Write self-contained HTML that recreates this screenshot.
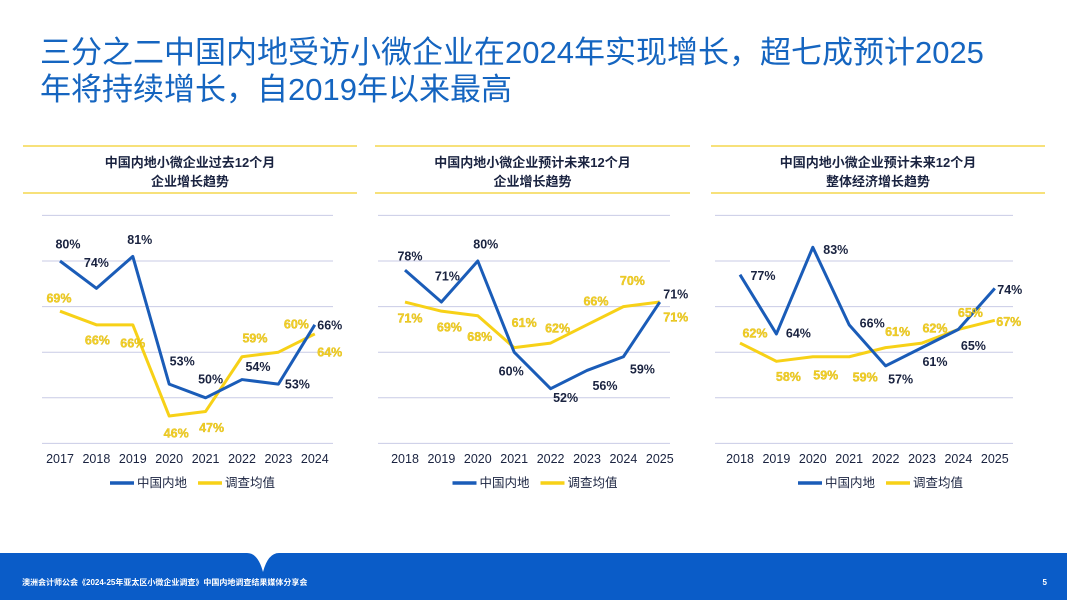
<!DOCTYPE html>
<html><head><meta charset="utf-8">
<style>
body{margin:0;width:1067px;height:600px;overflow:hidden;background:#fff;font-family:"Liberation Sans","Noto Sans CJK SC",sans-serif;}
#title{position:absolute;left:40px;top:34px;font-size:31px;line-height:37px;color:#1565c0;margin:0;font-weight:normal;white-space:nowrap;}
svg{position:absolute;left:0;top:0;}
</style></head><body>
<h1 id="title">三分之二中国内地受访小微企业在2024年实现增长，超七成预计2025<br>年将持续增长，自2019年以来最高</h1>
<svg id="s" width="1067" height="600"></svg>
<script>
const years1=["2017","2018","2019","2020","2021","2022","2023","2024"];
const years2=["2018","2019","2020","2021","2022","2023","2024","2025"];
const years3=["2018","2019","2020","2021","2022","2023","2024","2025"];
const china1=[80,74,81,53,50,54,53,66];
const avg1=[69,66,66,46,47,59,60,64];
const china2=[78,71,80,60,52,56,59,71];
const avg2=[71,69,68,61,62,66,70,71];
const china3=[77,64,83,66,57,61,65,74];
const avg3=[62,58,59,59,61,62,65,67];
const gridTicks=[40,50,60,70,80,90];

const NS="http://www.w3.org/2000/svg";
const svg=document.getElementById('s');
function mk(t,a,p){const e=document.createElementNS(NS,t);for(const k in a)e.setAttribute(k,a[k]);(p||svg).appendChild(e);return e;}
function yS(v){return 261+(80-v)*4.56;}

const panels=[
 {x0:23,x1:357,gx0:42,gx1:333,px0:60,t1:"中国内地小微企业过去12个月",t2:"企业增长趋势",cats:years1,c:china1,a:avg1,
  cOff:[[8,-17],[0,-26],[7,-17],[13,-23],[5,-19],[16,-13],[19,0],[15,0]],
  aOff:[[-1,-13],[1,15],[0,18],[7,17],[6,16],[13,-19],[18,-28],[15,18]]},
 {x0:375,x1:690,gx0:378,gx1:670,px0:405,t1:"中国内地小微企业预计未来12个月",t2:"企业增长趋势",cats:years2,c:china2,a:avg2,
  cOff:[[5,-14],[6,-26],[8,-17],[-3,19],[15,9],[18,15],[19,12],[16,-8]],
  aOff:[[5,16],[8,16],[2,21],[10,-25],[7,-15],[9,-24],[9,-26],[16,15]]},
 {x0:711,x1:1045,gx0:715,gx1:1013,px0:740,t1:"中国内地小微企业预计未来12个月",t2:"整体经济增长趋势",cats:years3,c:china3,a:avg3,
  cOff:[[23,1],[22,-1],[23,2],[23,-2],[15,13],[13,14],[15,16],[15,1]],
  aOff:[[15,-10],[12,15],[13,18],[16,20],[12,-16],[13,-15],[12,-17],[14,1]]}
];
panels.forEach((p,pi)=>{
  const g=mk('g',{});
  
  
  mk('line',{x1:p.x0,x2:p.x1,y1:146,y2:146,stroke:'#f2cf2a','stroke-width':1.2},g);
  mk('line',{x1:p.x0,x2:p.x1,y1:193,y2:193,stroke:'#f2cf2a','stroke-width':1.2},g);
  const cx=(p.x0+p.x1)/2;
  const t=mk('text',{x:cx,y:167,'text-anchor':'middle','font-size':13,'font-weight':'bold',fill:'#1a2340'},g);t.textContent=p.t1;
  
  
  const t2=mk('text',{x:cx,y:186,'text-anchor':'middle','font-size':13,'font-weight':'bold',fill:'#1a2340'},g);t2.textContent=p.t2;
  
  
  gridTicks.forEach(v=>{const l=mk('line',{x1:p.gx0,x2:p.gx1,y1:yS(v),y2:yS(v),stroke:'#c9cbe6','stroke-width':1},g);
    
    });
  const xs=i=>p.px0+36.4*i;
  p.cats.forEach((c,i)=>{const e=mk('text',{x:xs(i),y:463,'text-anchor':'middle','font-size':12.5,fill:'#1a2340'},g);e.textContent=c;
    
    });
  [[p.a,'#f7d117','avg'],[p.c,'#1a5cb8','china']].forEach(([vals,col,nm])=>{
    const pl=mk('polyline',{points:vals.map((v,i)=>xs(i)+','+yS(v)).join(' '),fill:'none',stroke:col,'stroke-width':3,'stroke-linejoin':'round'},g);
    
    
  });
  [[p.c,p.cOff,'#1a2340','china'],[p.a,p.aOff,'#f2cf2a','avg']].forEach(([vals,off,col,nm])=>{
    vals.forEach((v,i)=>{const e=mk('text',{x:xs(i)+off[i][0],y:yS(v)+off[i][1]+4.5,'text-anchor':'middle','font-size':12.5,'font-weight':'bold',fill:col},g);
      if(nm==='avg'){e.setAttribute('stroke','#d8b400');e.setAttribute('stroke-width','0.3');}
      e.textContent=v+'%';
      
      });
  });
  const lx=cx-80;
  const lg=mk('g',{},g);
  
  
  mk('line',{x1:lx,x2:lx+24,y1:483,y2:483,stroke:'#1a5cb8','stroke-width':3.5},lg);
  let e=mk('text',{x:lx+27,y:487,'font-size':12.5,fill:'#1a2340'},lg);e.textContent='中国内地';
  mk('line',{x1:lx+88,x2:lx+112,y1:483,y2:483,stroke:'#f7d117','stroke-width':3.5},lg);
  e=mk('text',{x:lx+115,y:487,'font-size':12.5,fill:'#1a2340'},lg);e.textContent='调查均值';
});
const f=mk('path',{d:'M0 553 L247 553 Q258 553 263 572 Q268 553 279 553 L1067 553 L1067 600 L0 600 Z',fill:'#0a5cc8'});


let ft=mk('text',{x:22,y:585,'font-size':8,'font-weight':'bold',fill:'#fff'});ft.textContent='澳洲会计师公会《2024-25年亚太区小微企业调查》中国内地调查结果媒体分享会';


ft=mk('text',{x:1047,y:585,'font-size':8,'font-weight':'bold',fill:'#fff','text-anchor':'end'});ft.textContent='5';


</script>
</body></html>
